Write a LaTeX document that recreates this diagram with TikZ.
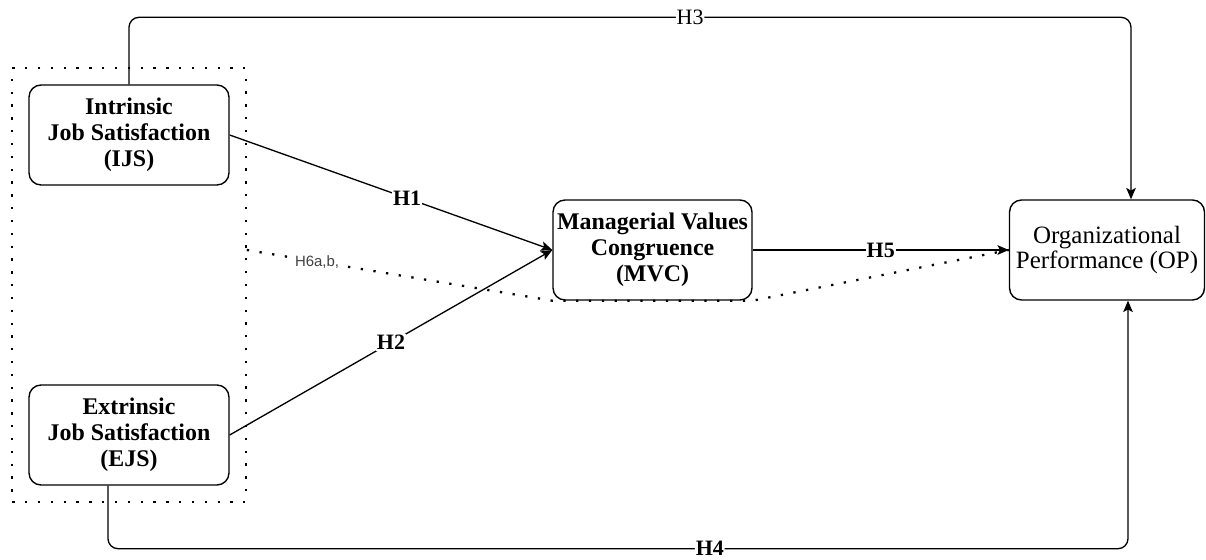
\documentclass[tikz,border=0pt]{standalone}
\usepackage{fontspec}
\setmainfont{Liberation Serif}
\newfontfamily\hsans{Liberation Sans}
\usetikzlibrary{arrows.meta, positioning, fit}

\begin{document}
\begin{tikzpicture}[x=0.02cm, y=-0.02cm,
      construct/.style={rectangle, rounded corners=0.24cm, draw, line width=0.8pt, minimum width=4cm, minimum height=2cm, inner sep=1pt, align=center, font=\fontsize{13.6}{14.7}\selectfont\bfseries},
      outcome/.style={construct, minimum width=3.9cm, font=\fontsize{14.2}{14.5}\selectfont},
      grpbox/.style={rectangle, draw, line width=1.3pt, dash pattern=on 1.3pt off 6pt, inner sep=0.32cm},
      link/.style={-{Stealth[length=6.5pt, width=5.5pt, inset=1.5pt]}, line width=0.75pt},
      hyp/.style={fill=white, inner sep=0.5pt, font=\fontsize{12.5}{13}\selectfont}]

      \useasboundingbox (0,0) rectangle (1206,560);

      \node[construct] (ijs) at (129,135) {Intrinsic\\Job Satisfaction\\(IJS)};
      \node[construct] (ejs) at (129,435) {Extrinsic\\Job Satisfaction\\(EJS)};
      \node[construct, minimum width=3.98cm] (mvc) at (652.5,250) {Managerial Values\\Congruence\\(MVC)};
      \node[outcome] (op) at (1107,250) {Organizational\\Performance (OP)};

      % Dotted group round both job satisfaction boxes
      \node[grpbox, fit=(ijs)(ejs)] (grp) {};

      % Direct paths
      \draw[link] (ijs.east) -- node[hyp, pos=0.55, font=\fontsize{12.5}{13}\selectfont\bfseries] {H1} (mvc.west);
      \draw[link] (ejs.east) -- node[hyp, pos=0.5, font=\fontsize{12.5}{13}\selectfont\bfseries] {H2} (mvc.west);
      \draw[link] (mvc.east) -- node[hyp, pos=0.5, font=\fontsize{12.5}{13}\selectfont\bfseries] {H5} (op.west);
      \draw[link, rounded corners=0.2cm] (ijs.north) -- ++(0,-67) -| node[hyp, pos=0.28] {H3} ([xshift=0.48cm]op.north);
      \draw[link, rounded corners=0.2cm] ([xshift=-0.42cm]ejs.south) -- ++(0,63) -| node[hyp, pos=0.295, font=\fontsize{12.5}{13}\selectfont\bfseries] {H4} ([xshift=0.42cm]op.south);

      % Mediation path
      \draw[line width=1.3pt, dash pattern=on 1.3pt off 6pt] (grp.east |- mvc.west) -- node[pos=0.23, fill=white, inner sep=0.5pt, text=black!75, font=\hsans\fontsize{8.5}{9}\selectfont] {H6a,b,} (mvc.south west) -- (mvc.south east) -- (op.west);
    \end{tikzpicture}
\end{document}
